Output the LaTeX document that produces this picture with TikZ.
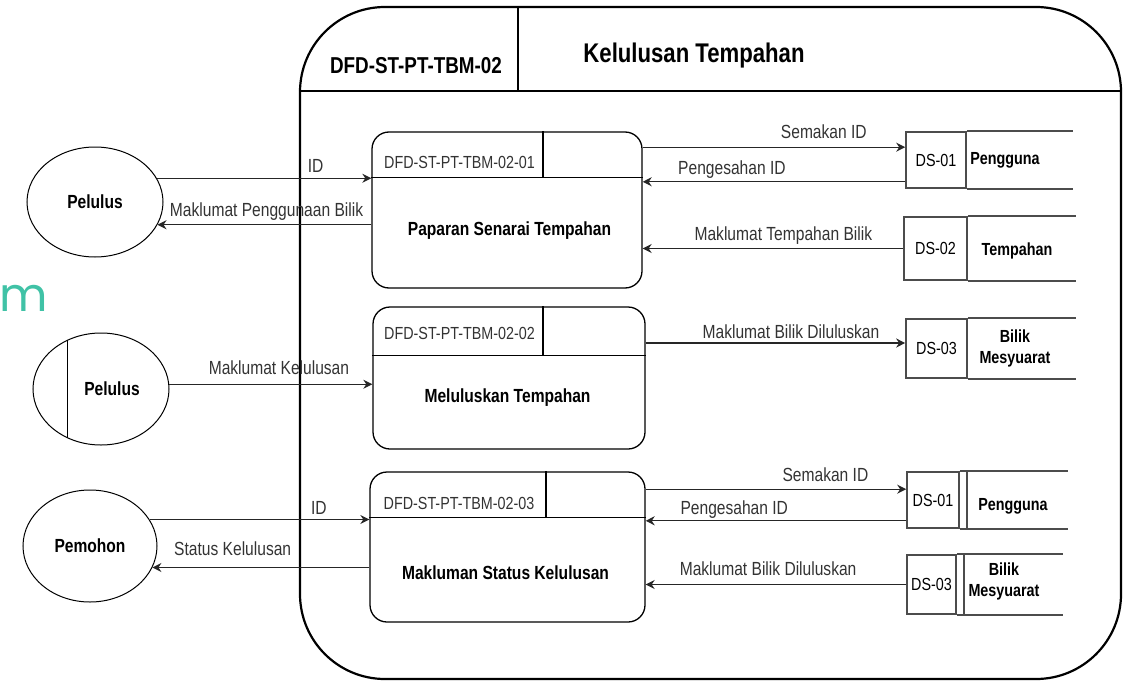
\documentclass[tikz,border=0pt]{standalone}
\usepackage{fontspec}
\setmainfont{Liberation Sans}[FakeStretch=0.82]
\newfontfamily\fragfont{Poppins}
\usetikzlibrary{arrows.meta, shapes}
\usetikzlibrary{positioning}
\definecolor{tealc}{RGB}{64,194,166}

\begin{document}
\begin{tikzpicture}[x=1pt,y=-1pt,
  flow/.style={-{Stealth[length=9pt,width=9pt]},line width=1.3pt,draw=black!85},
  lbl/.style={anchor=base,yshift=8pt,inner sep=0pt,text=black!80,font=\fontsize{19}{21}\selectfont},
  proc/.style={draw,line width=1.3pt,rounded corners=17pt,inner sep=0pt},
  pid/.style={anchor=base,text=black!80,font=\fontsize{17.5}{20}\selectfont},
  pname/.style={anchor=base,font=\bfseries\fontsize{19}{21}\selectfont},
  ent/.style={draw,ellipse,line width=1pt,inner sep=0pt,font=\bfseries\fontsize{19}{21}\selectfont},
  ds/.style={draw=black!70,line width=1.6pt,inner sep=0pt,font=\fontsize{17.5}{20}\selectfont},
  dsname/.style={inner sep=0pt,align=center,font=\bfseries\fontsize{17.5}{21}\selectfont}]
\useasboundingbox (0,0) rectangle (1123,682);

\node[anchor=base west,inner sep=0pt,text=tealc,font=\fragfont\fontsize{47}{50}\selectfont] (frag) at (-1,311) {m};

\node[draw,line width=2.2pt,rounded corners=85pt,minimum width=821,minimum height=672] (sys) at (710.5,343) {};
\coordinate (hd) at (518,91);
\draw[line width=2.2pt] (sys.west |- hd) -- (sys.east |- hd);
\draw[line width=1.5pt] (hd) -- (hd |- sys.north);
\node[anchor=base,font=\bfseries\fontsize{23}{26}\selectfont] (sysid) at (416,74) {DFD-ST-PT-TBM-02};
\node[anchor=base,font=\bfseries\fontsize{27}{30}\selectfont] (systitle) at (694,63) {Kelulusan Tempahan};

\node[proc,minimum width=270,minimum height=156] (p1) at (507,210) {};
\node[proc,minimum width=272,minimum height=142] (p2) at (509,378) {};
\node[proc,minimum width=275,minimum height=150] (p3) at (507.5,547) {};
\foreach \p/\h/\d in {p1/46/36,p2/49/34,p3/46/38.5}{
  \draw[line width=1.3pt] ([yshift=-\h pt]\p.north west) -- ([yshift=-\h pt]\p.north east);
  \draw[line width=1.3pt] ([xshift=\d pt]\p.north) -- ([xshift=\d pt,yshift=-\h pt]\p.north);
}
\node[pid] (p1i) at (459.5,168) {DFD-ST-PT-TBM-02-01};
\node[pname] (p1n) at (509.5,235) {Paparan Senarai Tempahan};
\node[pid] (p2i) at (459.5,339) {DFD-ST-PT-TBM-02-02};
\node[pname] (p2n) at (507.5,402) {Meluluskan Tempahan};
\node[pid] (p3i) at (459,509) {DFD-ST-PT-TBM-02-03};
\node[pname] (p3n) at (505.5,579) {Makluman Status Kelulusan};

\node[ent,minimum width=136,minimum height=110] (e1) at (95,202) {Pelulus};
\node[ent,minimum width=136,minimum height=112] (e2) at (101,389) {\hspace{22pt}Pelulus};
\draw[line width=1pt] (e2.124) -- (e2.236);
\node[ent,minimum width=134,minimum height=112] (e3) at (90,546) {Pemohon};

\node[ds,minimum width=60,minimum height=56] (d1) at (936,160) {DS-01};
\node[ds,minimum width=63,minimum height=63] (d2) at (935.5,248.5) {DS-02};
\node[ds,minimum width=61,minimum height=59] (d3) at (936.5,348.5) {DS-03};
\node[ds,minimum width=52,minimum height=56] (d4) at (933,500) {DS-01};
\node[ds,minimum width=49,minimum height=59] (d5) at (931.5,584.5) {DS-03};
\foreach \d/\l in {d1/106,d2/108,d3/108,d4/108,d5/106}
  \draw[ds] (\d.north east) -- ++(\l,0) (\d.south east) -- ++(\l,0);
\foreach \d in {d4,d5}
  \draw[ds] ([xshift=7pt]\d.north east) -- ([xshift=7pt]\d.south east);
\node[dsname] (d1n) at (1005,160) {Pengguna};
\node[dsname] (d2n) at (1017,251) {Tempahan};
\node[dsname] (d3n) at (1015,348) {Bilik\\Mesyuarat};
\node[dsname] (d4n) at (1013,506) {Pengguna};
\node[dsname] (d5n) at (1004,581) {Bilik\\Mesyuarat};

\draw[flow] (e1.21) -- (e1.21 -| p1.west) node[lbl,pos=.74,yshift=-2pt] {ID};
\draw[flow] (e1.340 -| p1.west) -- (e1.340) node[lbl,pos=.49] {Maklumat Penggunaan Bilik};
\draw[flow] (e2.4) -- (e2.4 -| p2.west) node[lbl,pos=.54,yshift=2pt] {Maklumat Kelulusan};
\draw[flow] (e3.24) -- (e3.24 -| p3.west) node[lbl,pos=.77,yshift=-3pt] {ID};
\draw[flow] (e3.341 -| p3.west) -- (e3.341) node[lbl,pos=.63,yshift=4pt] {Status Kelulusan};

\coordinate (r1) at ([yshift=-16pt]d1.north west);
\coordinate (r2) at ([yshift=7pt]d1.south west);
\coordinate (r3) at ([yshift=5.5pt]d3.west);
\coordinate (r4) at ([yshift=-18pt]d4.north west);
\coordinate (r5) at ([yshift=8pt]d4.south west);
\draw[flow] (p1.east |- r1) -- (r1) node[lbl,pos=.69,yshift=1pt] {Semakan ID};
\draw[flow] (r2) -- (p1.east |- r2) node[lbl,pos=.66,yshift=-1pt] {Pengesahan ID};
\draw[flow] (d2.west) -- (p1.east |- d2.west) node[lbl,pos=.46] {Maklumat Tempahan Bilik};
\draw[flow] (p2.east |- r3) -- (r3) node[lbl,pos=.56,yshift=-3pt] {Maklumat Bilik Diluluskan};
\draw[flow] (p3.east |- r4) -- (r4) node[lbl,pos=.69] {Semakan ID};
\draw[flow] (r5) -- (p3.east |- r5) node[lbl,pos=.66,yshift=-2pt] {Pengesahan ID};
\draw[flow] (d5.west) -- (p3.east |- d5.west) node[lbl,pos=.53,yshift=1pt] {Maklumat Bilik Diluluskan};
\end{tikzpicture}
\end{document}
